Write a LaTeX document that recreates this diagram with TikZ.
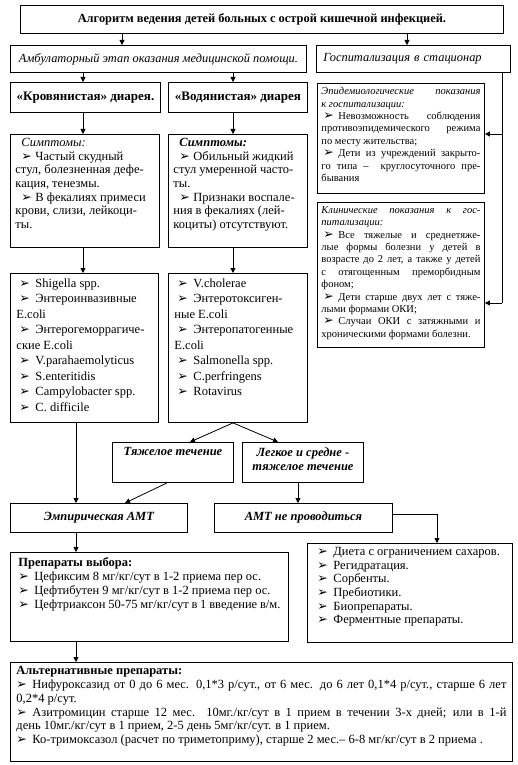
\documentclass[tikz,border=0pt]{standalone}
\usepackage{fontspec}
\setmainfont{Liberation Serif}
\newfontfamily\dejavu{DejaVu Sans}
\usetikzlibrary{arrows.meta}

\newcommand{\bul}{{\dejavu\fontsize{12.5}{10}\selectfont\char"27A2}}
\newcommand{\itm}[1][16pt]{\makebox[#1][l]{\bul}}
\newcommand{\cell}[3]{\parbox[c][#2][t]{#1}{\sloppy #3}}

\begin{document}
\begin{tikzpicture}[x=1pt,y=-1pt,
  box/.style={draw,line width=0.9pt,anchor=north west,inner sep=0pt},
  link/.style={line width=0.8pt,-{Triangle[length=5pt,width=5pt]}},
  txt/.style={font=\fontsize{12.5}{#1}\selectfont},
  small/.style={font=\fontsize{10.5}{12.4}\selectfont},
  head/.style={font=\bfseries\itshape\fontsize{12.5}{14}\selectfont}]
\fill[white] (0,0) rectangle (517,765);
\useasboundingbox (0,0) rectangle (517,765);

% title and the two branches
\node[box,minimum width=483pt,minimum height=28pt,font=\bfseries\fontsize{12.4}{14}\selectfont] (title) at (20,5)
  {Алгоритм ведения детей больных с острой кишечной инфекцией.};
\node[box,minimum width=296pt,minimum height=27pt,font=\itshape\fontsize{12.4}{14}\selectfont] (amb) at (10,45)
  {Амбулаторный этап оказания медицинской помощи.};
\node[box,minimum height=27pt,text width=180pt,inner xsep=7pt,align=left,font=\itshape\fontsize{12.4}{14}\selectfont] (hosp) at (316,45)
  {Госпитализация в стационар};

% kinds of diarrhoea
\node[box,minimum width=150pt,minimum height=30pt,font=\bfseries\fontsize{13}{14}\selectfont] (krov) at (10,82)
  {«Кровянистая» диарея.};
\node[box,minimum width=139pt,minimum height=30pt,font=\bfseries\fontsize{13}{14}\selectfont] (vod) at (168,82)
  {«Водянистая» диарея};

% indications for hospital
\node[box,inner xsep=4pt,inner ysep=4pt,small] (epid) at (317,83) {\cell{159pt}{102pt}{%
  \textit{Эпидемиологические показания\linebreak к госпитализации:}\par
  \hspace*{2pt}\itm[15pt]Невозможность соблюдения\linebreak противоэпидемического режима\linebreak по месту жительства;\par
  \hspace*{2pt}\itm[15pt]Дети из учреждений закрыто-\linebreak го типа –\ \ круглосуточного пре-\linebreak бывания}};
\node[box,inner xsep=4pt,inner ysep=4pt,small] (clin) at (317,202) {\cell{159pt}{137pt}{%
  \textit{Клинические показания к гос-\linebreak питализации:}\par
  \hspace*{2pt}\itm[15pt]Все тяжелые и среднетяже-\linebreak лые формы болезни у детей в\linebreak возрасте до 2 лет, а также у детей\linebreak с отягощенным преморбидным\linebreak фоном;\par
  \hspace*{2pt}\itm[15pt]Дети старше двух лет с тяже-\linebreak лыми формами ОКИ;\par
  \hspace*{2pt}\itm[15pt]Случаи ОКИ с затяжными и\linebreak хроническими формами болезни.}};

% symptoms
\node[box,inner xsep=5pt,inner ysep=4pt,txt=13.6] (symL) at (10,134) {\cell{139pt}{105pt}{%
  \hspace*{6pt}\textit{Симптомы:}\\
  \hspace*{6pt}\itm[14pt]Частый скудный\\
  стул, болезненная дефе-\\
  кация, тенезмы.\\
  \hspace*{6pt}\itm[14pt]В фекалиях примеси\\
  крови, слизи, лейкоци-\\
  ты.}};
\node[box,inner xsep=5pt,inner ysep=4pt,txt=13.6] (symR) at (168,134) {\cell{129pt}{105pt}{%
  \hspace*{6pt}\textbf{\textit{Симптомы:}}\\
  \hspace*{6pt}\itm[14pt]Обильный жидкий\\
  стул умеренной часто-\\
  ты.\\
  \hspace*{6pt}\itm[14pt]Признаки воспале-\\
  ния в фекалиях (лей-\\
  коциты) отсутствуют.}};

% agents
\node[box,inner xsep=6pt,inner ysep=5pt,txt=15.5] (bacL) at (10,273) {\cell{136pt}{139pt}{%
  \hspace*{3pt}\itm Shigella spp.\\
  \hspace*{3pt}\itm Энтероинвазивные\\
  E.coli\\
  \hspace*{3pt}\itm Энтерогеморрагиче-\\
  ские E.coli\\
  \hspace*{3pt}\itm V.parahaemolyticus\\
  \hspace*{3pt}\itm S.enteritidis\\
  \hspace*{3pt}\itm Campylobacter spp.\\
  \hspace*{3pt}\itm C. difficile}};
\node[box,inner xsep=6pt,inner ysep=5pt,txt=15.5] (bacR) at (168,273) {\cell{127pt}{139pt}{%
  \hspace*{3pt}\itm V.cholerae\\
  \hspace*{3pt}\itm Энтеротоксиген-\\
  ные E.coli\\
  \hspace*{3pt}\itm Энтеропатогенные\\
  E.coli\\
  \hspace*{3pt}\itm Salmonella spp.\\
  \hspace*{3pt}\itm C.perfringens\\
  \hspace*{3pt}\itm Rotavirus}};

% course and therapy
\node[box,inner xsep=3pt,inner ysep=5pt,head] (heavy) at (112,442) {\cell{115pt}{30pt}{\centering Тяжелое течение}};
\node[box,inner xsep=3pt,inner ysep=5pt,head] (light) at (242,442) {\cell{115pt}{30pt}{\centering Легкое и средне -\\ тяжелое течение}};
\node[box,minimum width=177pt,minimum height=29pt,head] (emp) at (10,503) {Эмпирическая АМТ};
\node[box,minimum width=178pt,minimum height=29pt,head] (noamt) at (214,503) {АМТ не проводиться};

\node[box,inner xsep=10pt,inner ysep=4pt,txt=13.6] (diet) at (307,543) {\cell{185pt}{91pt}{%
  \itm Диета с ограничением сахаров.\\
  \itm Регидратация.\\
  \itm Сорбенты.\\
  \itm Пребиотики.\\
  \itm Биопрепараты.\\
  \itm Ферментные препараты.}};
\node[box,inner xsep=8pt,inner ysep=5pt,txt=14] (prep) at (10,552) {\cell{262pt}{79pt}{%
  \textbf{Препараты выбора:}\\
  \itm Цефиксим 8 мг/кг/сут в 1-2 приема пер ос.\\
  \itm Цефтибутен 9 мг/кг/сут в 1-2 приема пер ос.\\
  \itm Цефтриаксон 50-75 мг/кг/сут в 1 введение в/м.}};
\node[box,inner xsep=6pt,inner ysep=4pt,txt=13.8] (alt) at (10,662) {\cell{490pt}{91pt}{%
  \textbf{Альтернативные препараты:}\par
  \itm Нифуроксазид от 0 до 6 мес. 0,1*3 р/сут., от 6 мес. до 6 лет 0,1*4 р/сут., старше 6 лет\linebreak 0,2*4 р/сут.\par
  \itm Азитромицин старше 12 мес. 10мг./кг/сут в 1 прием в течении 3-х дней; или в 1-й\linebreak день 10мг./кг/сут в 1 прием, 2-5 день 5мг/кг/сут. в 1 прием.\par
  \itm Ко-тримоксазол (расчет по триметоприму), старше 2 мес.– 6-8 мг/кг/сут в 2 приема .}};

% arrows
\draw[link] (title.south -| 122,0) -- (amb.north -| 122,0);
\draw[link] (title.south -| 407,0) -- (hosp.north -| 407,0);
\draw[link] (amb.south -| 83,0) -- (krov.north -| 83,0);
\draw[link] (amb.south -| 233,0) -- (vod.north -| 233,0);
\draw[link] (krov.south -| 83,0) -- (symL.north -| 83,0);
\draw[link] (vod.south -| 233,0) -- (symR.north -| 233,0);
\draw[link] (symL.south -| 83,0) -- (bacL.north -| 83,0);
\draw[link] (symR.south -| 233,0) -- (bacR.north -| 233,0);
\draw[link] (bacL.south -| 76,0) -- (emp.north -| 76,0);
\draw[link] (bacR.south -| 233,0) -- (heavy.north -| 190,0);
\draw[link] (bacR.south -| 233,0) -- (light.north -| 278,0);
\draw[link] (heavy.south -| 167,0) -- (emp.north -| 125,0);
\draw[link] (light.south -| 298,0) -- (noamt.north -| 298,0);
\draw[link] (noamt.east |- 0,514) -| (diet.north -| 437,0);
\draw[link] (emp.south -| 76,0) -- (prep.north -| 76,0);
\draw[link] (prep.south -| 76,0) -- (alt.north -| 76,0);
% side line from the hospital box
\coordinate (bus) at (502,303);
\draw[line width=0.8pt] (hosp.south -| bus) -- (bus);
\draw[link] (bus |- 0,134) -- (epid.east |- 0,134);
\draw[link] (bus) -- (clin.east |- bus);
\end{tikzpicture}
\end{document}
